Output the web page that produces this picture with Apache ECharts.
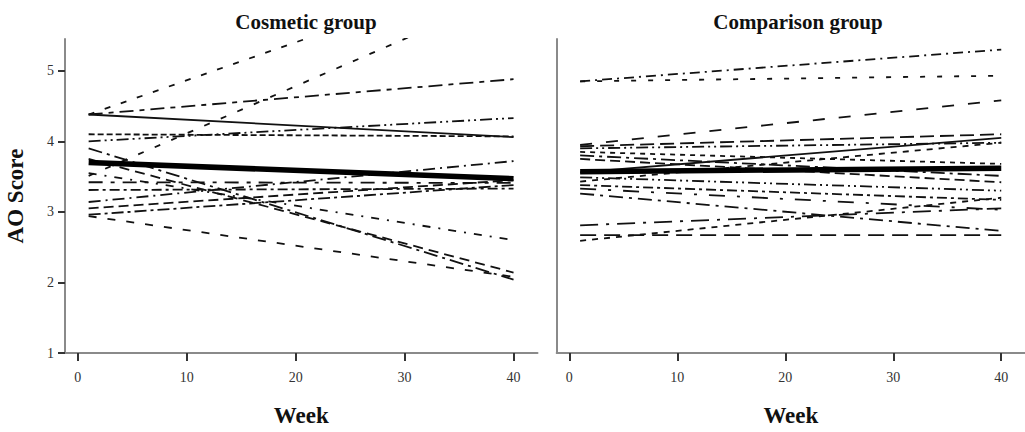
<!DOCTYPE html>
<html>
<head>
<meta charset="utf-8">
<title>AO Score by week</title>
<script src="https://cdn.jsdelivr.net/npm/echarts@6/dist/echarts.min.js"></script>
<style>
  html, body { margin: 0; padding: 0; background: #fff; }
  #chart { width: 1025px; height: 432px; }
</style>
</head>
<body>
<div id="chart"></div>
<script>
// Measurement weeks (first and last visit)
const weeks = [1, 40];
const weekTicks = [0, 10, 20, 30, 40];
const scoreTicks = [1, 2, 3, 4, 5];
const panelTitles = ['Cosmetic group', 'Comparison group'];

// Individual AO scores [week 1, week 40]
const cosmeticScores = [
  [4.38, 6.48], [3.51, 6.12], [4.38, 4.88], [4.38, 4.06], [4.10, 4.07],
  [4.00, 4.33], [3.42, 3.41], [3.31, 3.33], [3.14, 3.72], [3.05, 3.45],
  [2.96, 3.38], [3.90, 2.04], [3.75, 2.14], [3.55, 2.60], [2.94, 2.08]
];
const cosmeticMean = [3.70, 3.47];

const comparisonScores = [
  [4.85, 5.30], [4.85, 4.93], [3.95, 4.58], [3.93, 4.10], [3.90, 3.98],
  [3.56, 4.05], [3.43, 3.98], [3.85, 3.68], [3.80, 3.51], [3.75, 3.42],
  [3.49, 3.30], [3.38, 3.17], [3.33, 3.03], [3.26, 2.73], [2.81, 3.05],
  [2.67, 2.67], [2.59, 3.20]
];
const comparisonMean = [3.57, 3.62];

// Dash patterns used to tell the individual lines apart
const cosmeticDash = [
  [6, 11], [6, 12], [14, 6, 5, 6], 'solid', [6, 3],
  [12, 4, 2, 4, 2, 4], [14, 8, 4, 8], [10, 4, 3, 4], [12, 5, 2, 5], [10, 5],
  [12, 4, 3, 4], [14, 5, 3, 5], [10, 6], [8, 8, 2, 8], [8, 11]
];
const comparisonDash = [
  [10, 5, 2, 5], [5, 12], [12, 14], [14, 6], [12, 4, 2, 4, 2, 4],
  'solid', [6, 6], [5, 5], [14, 5, 3, 5], [10, 5],
  [12, 4, 2, 4, 2, 4], [10, 4, 3, 4], [16, 12, 3, 12], [14, 6, 3, 6], [18, 8, 3, 8],
  [16, 8], [6, 6]
];

const serif = '"Liberation Serif", "DejaVu Serif", serif';
const X_MIN = -1.17, X_MAX = 42.2, Y_MIN = 1, Y_MAX = 5.45;

function subjectSeries(scores, dashes, gridIdx) {
  return scores.map((pair, i) => ({
    type: 'line',
    xAxisIndex: gridIdx,
    yAxisIndex: gridIdx,
    data: weeks.map((w, k) => [w, pair[k]]),
    symbol: 'none',
    silent: true,
    clip: true,
    lineStyle: { color: '#111', width: 1.8, type: dashes[i] }
  }));
}

function meanSeries(mean, gridIdx) {
  return {
    type: 'line',
    xAxisIndex: gridIdx,
    yAxisIndex: gridIdx,
    data: weeks.map((w, k) => [w, mean[k]]),
    symbol: 'none',
    silent: true,
    z: 5,
    lineStyle: { color: '#000', width: 5.5, type: 'solid' }
  };
}

function xAxisFor(gridIdx) {
  return {
    type: 'value',
    gridIndex: gridIdx,
    min: X_MIN,
    max: X_MAX,
    splitLine: { show: false },
    axisLine: { show: true, onZero: false, lineStyle: { color: '#8a8a8a', width: 2 } },
    axisTick: { show: true, customValues: weekTicks, length: 8, lineStyle: { color: '#333', width: 2 } },
    axisLabel: { customValues: weekTicks, margin: 17, fontFamily: serif, fontSize: 14, color: '#333' },
    name: 'Week',
    nameLocation: 'middle',
    nameGap: 51,
    nameTextStyle: { fontFamily: serif, fontWeight: 'bold', fontSize: 23, color: '#111' }
  };
}

const chart = echarts.init(document.getElementById('chart'), null, { renderer: 'svg' });

chart.setOption({
  animation: false,
  backgroundColor: '#fff',
  title: [
    { text: panelTitles[0], left: 301, top: 6, textAlign: 'center',
      textStyle: { fontFamily: serif, fontWeight: 'bold', fontSize: 21, color: '#111' } },
    { text: panelTitles[1], left: 793, top: 6, textAlign: 'center',
      textStyle: { fontFamily: serif, fontWeight: 'bold', fontSize: 21, color: '#111' } }
  ],
  grid: [
    { left: 65, top: 39, width: 472.5, height: 320.3 },
    { left: 556.7, top: 39, width: 472.5, height: 320.3 }
  ],
  xAxis: [xAxisFor(0), xAxisFor(1)],
  yAxis: [
    {
      type: 'value', gridIndex: 0, min: Y_MIN, max: Y_MAX,
      splitLine: { show: false },
      axisLine: { show: true, onZero: false, lineStyle: { color: '#8a8a8a', width: 2 } },
      axisTick: { show: true, customValues: scoreTicks, length: 7, lineStyle: { color: '#333', width: 2 } },
      axisLabel: { customValues: scoreTicks, margin: 11, fontFamily: serif, fontSize: 14, color: '#333' },
      name: 'AO Score',
      nameLocation: 'middle',
      nameGap: 38,
      nameTextStyle: { fontFamily: serif, fontWeight: 'bold', fontSize: 23, color: '#111' }
    },
    {
      type: 'value', gridIndex: 1, min: Y_MIN, max: Y_MAX,
      splitLine: { show: false },
      axisLine: { show: true, onZero: false, lineStyle: { color: '#8a8a8a', width: 2 } },
      axisTick: { show: false },
      axisLabel: { show: false }
    }
  ],
  series: [
    ...subjectSeries(cosmeticScores, cosmeticDash, 0),
    meanSeries(cosmeticMean, 0),
    ...subjectSeries(comparisonScores, comparisonDash, 1),
    meanSeries(comparisonMean, 1)
  ]
});
</script>
</body>
</html>
